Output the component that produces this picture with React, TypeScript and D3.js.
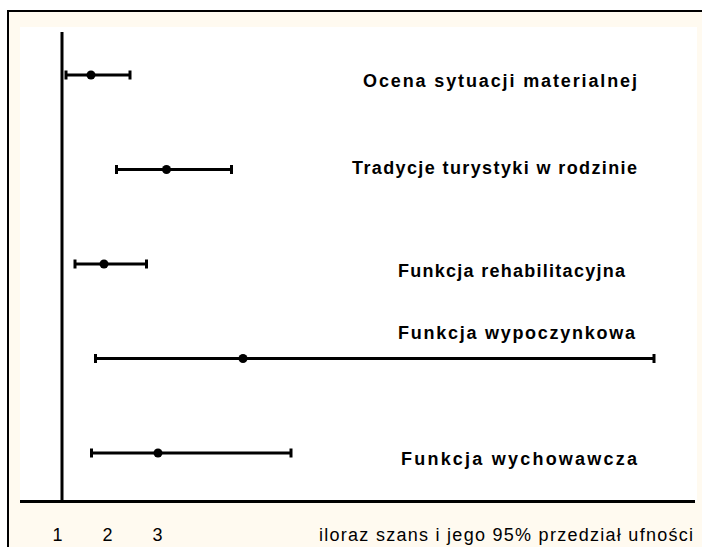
import React from "react";
import * as d3 from "d3";

const categories = [
  "Ocena sytuacji materialnej",
  "Tradycje turystyki w rodzinie",
  "Funkcja rehabilitacyjna",
  "Funkcja wypoczynkowa",
  "Funkcja wychowawcza",
];
const oddsRatio = [1.58, 3.09, 1.84, 4.62, 2.92];
const ciLower = [1.08, 2.09, 1.26, 1.67, 1.59];
const ciUpper = [2.36, 4.39, 2.69, 12.84, 5.58];
const tickValues = [1, 2, 3];
const axisTitle = "iloraz szans i jego 95% przedział ufności";

// label layout (x start, baseline offset from row, width)
const labelLayout = [
  { x: 363, dy: 12, w: 274 },
  { x: 352, dy: 4, w: 285 },
  { x: 398, dy: 13, w: 227 },
  { x: 398, dy: -20, w: 237 },
  { x: 401, dy: 12, w: 236 },
];

export default function App() {
  const W = 702;
  const H = 547;
  const x = d3.scaleLinear().domain([1, 13]).range([62, 662]);
  const y = d3.scalePoint<string>().domain(categories).range([75, 453]);
  const font = "Arial, 'Liberation Sans', sans-serif";
  const capH = 4.5;
  return (
    <svg
      width={W}
      height={H}
      style={{ position: "absolute", left: 0, top: 0, background: "#ffffff" }}
    >
      <rect x={8} y={11} width={W + 10} height={H + 10} fill="#FFFAF0" stroke="#000" strokeWidth={2} />
      <rect x={20} y={27} width={677} height={474} fill="#ffffff" />
      {/* reference line at OR = 1 */}
      <line x1={x(1)} x2={x(1)} y1={32} y2={503} stroke="#000" strokeWidth={3} />
      {/* x axis */}
      <line x1={20} x2={695} y1={501.5} y2={501.5} stroke="#000" strokeWidth={3} />
      {tickValues.map((t) => (
        <text
          key={t}
          x={x(t) - 4.5}
          y={541}
          textAnchor="middle"
          fontFamily={font}
          fontSize={18}
          fill="#000"
        >
          {t}
        </text>
      ))}
      <text
        x={319}
        y={541}
        fontFamily={font}
        fontSize={18}
        fill="#000"
        textLength={374}
        lengthAdjust="spacing"
      >
        {axisTitle}
      </text>
      {categories.map((c, i) => {
        const yy = y(c) as number;
        const x0 = x(ciLower[i]);
        const x1 = x(ciUpper[i]);
        const lay = labelLayout[i];
        return (
          <g key={c}>
            <line x1={x0} x2={x1} y1={yy} y2={yy} stroke="#000" strokeWidth={3} />
            <line x1={x0} x2={x0} y1={yy - capH} y2={yy + capH} stroke="#000" strokeWidth={3} />
            <line x1={x1} x2={x1} y1={yy - capH} y2={yy + capH} stroke="#000" strokeWidth={3} />
            <circle cx={x(oddsRatio[i])} cy={yy} r={4.5} fill="#000" />
            <text
              x={lay.x}
              y={yy + lay.dy}
              fontFamily={font}
              fontWeight="bold"
              fontSize={18}
              fill="#000"
              textLength={lay.w}
              lengthAdjust="spacing"
            >
              {c}
            </text>
          </g>
        );
      })}
    </svg>
  );
}
